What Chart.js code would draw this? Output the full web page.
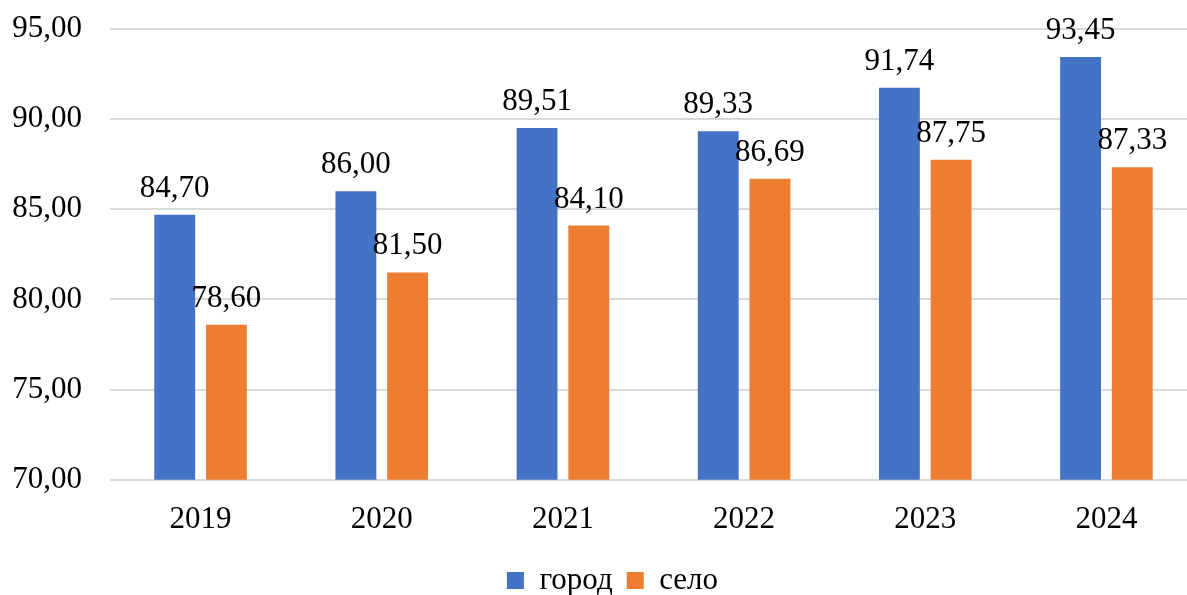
<!DOCTYPE html>
<html>
<head>
<meta charset="utf-8">
<script src="https://cdn.jsdelivr.net/npm/chart.js@4"></script>
<style>
  html, body { margin: 0; padding: 0; background: #fff; overflow: hidden; }
  #wrap { position: relative; width: 1197px; height: 606px; }
</style>
</head>
<body>
<div id="wrap"><canvas id="chart"></canvas></div>
<script>
const years = ["2019", "2020", "2021", "2022", "2023", "2024"];
const cityValues = [84.70, 86.00, 89.51, 89.33, 91.74, 93.45];
const villageValues = [78.60, 81.50, 84.10, 86.69, 87.75, 87.33];
const yTicks = [70, 75, 80, 85, 90, 95];

const FONT = "'Times New Roman', 'Liberation Serif', serif";

function fmt(v) {
  return v.toFixed(2).replace(".", ",");
}

// value labels above each bar
const valueLabels = {
  id: "valueLabels",
  afterDatasetsDraw(chart) {
    const ctx = chart.ctx;
    ctx.save();
    ctx.font = "31px " + FONT;
    ctx.fillStyle = "#000";
    ctx.textAlign = "center";
    ctx.textBaseline = "alphabetic";
    chart.data.datasets.forEach((ds, i) => {
      chart.getDatasetMeta(i).data.forEach((bar, j) => {
        ctx.fillText(fmt(ds.data[j]), bar.x, bar.y - 18);
      });
    });
    ctx.restore();
  }
};

// legend sits a bit right of centre in the original
const legendShift = {
  id: "legendShift",
  afterLayout(chart) {
    chart.legend.left += 14;
    chart.legend.right += 14;
  }
};

document.addEventListener("DOMContentLoaded", function () {
  const ctx = document.getElementById("chart").getContext("2d");
  new Chart(ctx, {
    type: "bar",
    data: {
      labels: years,
      datasets: [
        {
          label: "город",
          data: cityValues,
          backgroundColor: "#4472C4",
          categoryPercentage: 0.571,
          barPercentage: 0.79,
        },
        {
          label: "село",
          data: villageValues,
          backgroundColor: "#ED7D31",
          categoryPercentage: 0.571,
          barPercentage: 0.79,
        },
      ],
    },
    options: {
      responsive: true,
      maintainAspectRatio: false,
      animation: false,
      layout: { padding: { top: 29, left: 0, right: 0, bottom: 0 } },
      plugins: {
        tooltip: { enabled: false },
        legend: {
          position: "bottom",
          labels: {
            boxWidth: 17,
            boxHeight: 17,
            padding: 14,
            color: "#000",
            font: { family: FONT, size: 31 },
          },
        },
      },
      scales: {
        x: {
          grid: { display: false },
          border: { display: false },
          ticks: {
            color: "#000",
            font: { family: FONT, size: 31 },
            padding: 13,
            maxRotation: 0,
          },
        },
        y: {
          min: yTicks[0],
          max: yTicks[yTicks.length - 1],
          afterFit: (axis) => {
            axis.width = 110;
            axis.paddingTop = 0;
            axis.paddingBottom = 0;
          },
          afterBuildTicks: (axis) => {
            axis.ticks = yTicks.map((v) => ({ value: v }));
          },
          grid: { color: "#D9D9D9", lineWidth: 2, drawTicks: false },
          border: { display: false },
          ticks: {
            color: "#000",
            font: { family: FONT, size: 31 },
            padding: 28,
            callback: (v) => fmt(v),
          },
        },
      },
    },
    plugins: [valueLabels, legendShift],
  });
});
</script>
</body>
</html>
